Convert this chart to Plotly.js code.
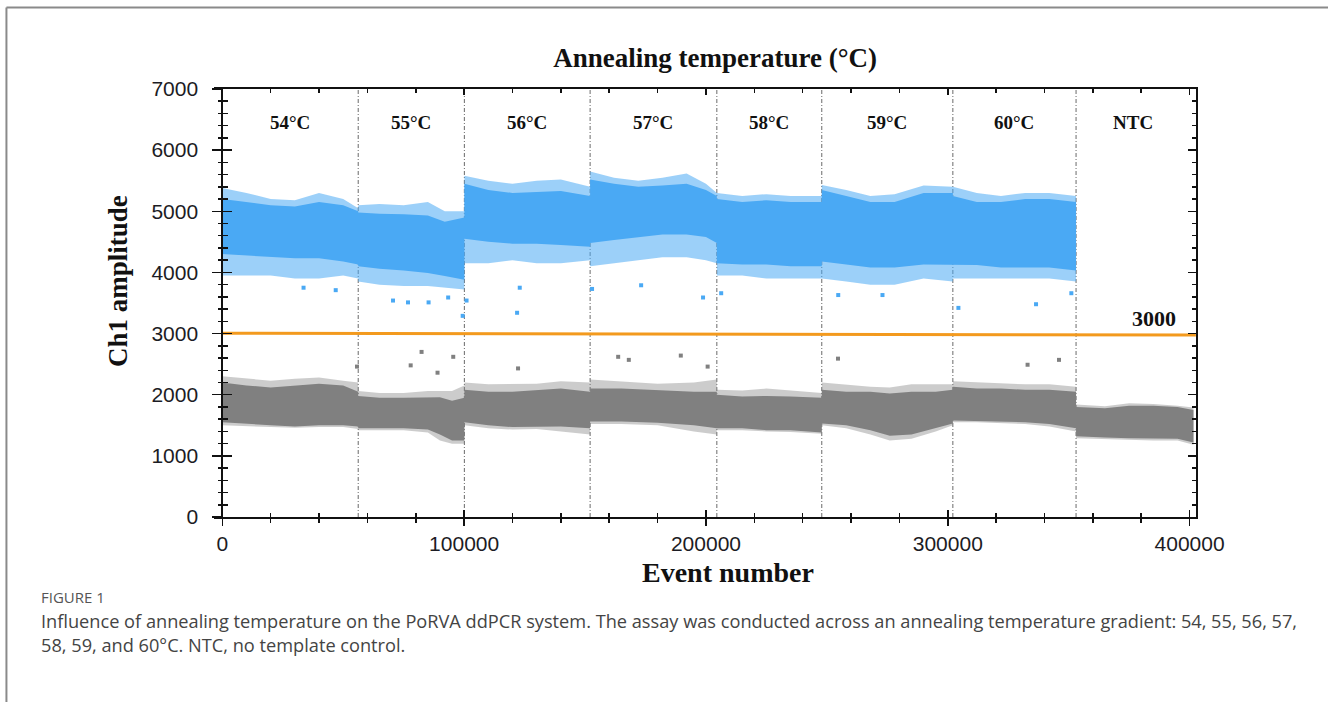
<!DOCTYPE html>
<html>
<head>
<meta charset="utf-8">
<script src="https://cdn.plot.ly/plotly-3.0.1.min.js"></script>
<style>
html,body{margin:0;padding:0;background:#fff;}
#chart{width:1328px;height:702px;}
</style>
</head>
<body>
<div id="chart"></div>
<script>
// ---- data ----
const wellLabels = ['54°C','55°C','56°C','57°C','58°C','59°C','60°C','NTC'];
const wellBounds = [0, 56200, 100100, 152100, 204500, 247900, 302100, 353050, 400000];

// positive droplets (blue) envelope, per well, steps at well boundaries
const blueX = [0,10000,20000,30000,40000,50000,56200, 56200,65000,75000,85000,92000,100100, 100100,110000,120000,130000,140000,152100, 152100,162000,172000,182000,192000,200000,204500, 204500,215000,225000,235000,247900, 247900,258000,268000,278000,290000,302100, 302100,312000,322000,332000,342000,353050];
const blueCoreHi = [5200,5150,5100,5080,5150,5100,5000, 4980,4960,4950,4930,4830,4900, 5450,5350,5300,5320,5330,5250, 5520,5450,5400,5420,5450,5350,5250, 5200,5150,5180,5150,5150, 5350,5250,5150,5150,5300,5300, 5250,5150,5150,5200,5200,5150];
const blueCoreLo = [4300,4270,4250,4230,4230,4180,4130, 4100,4060,4030,3990,3940,3880, 4550,4500,4470,4470,4450,4420, 4480,4530,4580,4620,4620,4580,4480, 4150,4130,4130,4100,4100, 4180,4130,4080,4080,4130,4130, 4130,4120,4080,4080,4080,4030];
const blueEdgeHi = [5380,5300,5200,5180,5300,5200,5050, 5100,5120,5100,5150,5000,5000, 5580,5500,5450,5500,5520,5400, 5650,5550,5500,5550,5620,5450,5300, 5300,5250,5280,5250,5250, 5430,5350,5250,5280,5420,5400, 5400,5300,5250,5300,5300,5250];
const blueEdgeLo = [3950,3950,3950,3900,3900,3950,3900, 3850,3800,3780,3780,3750,3720, 4150,4150,4200,4150,4150,4200, 4100,4150,4200,4250,4250,4200,4150, 3950,3950,3900,3900,3900, 3900,3850,3800,3800,3900,3850, 3900,3900,3900,3900,3900,3850];

// negative droplets (gray) envelope
const grayX = [0,10000,20000,30000,40000,50000,56200, 56200,65000,75000,85000,90000,95000,100100, 100100,110000,120000,130000,140000,152100, 152100,165000,180000,195000,204500, 204500,215000,225000,235000,247900, 247900,258000,268000,276000,285000,295000,302100, 302100,312000,322000,332000,342000,353050, 353050,365000,375000,385000,395000,401600];
const grayCoreHi = [2200,2150,2120,2150,2180,2150,2050, 1980,1950,1950,1950,1960,1900,1950, 2080,2050,2050,2080,2100,2050, 2100,2100,2080,2050,2050, 2000,1970,1980,1970,1950, 2080,2050,2050,2020,2050,2050,2080, 2130,2100,2100,2080,2080,2050, 1800,1780,1820,1820,1800,1750];
const grayCoreLo = [1550,1520,1500,1480,1500,1500,1480, 1450,1450,1450,1430,1350,1250,1250, 1550,1500,1470,1470,1480,1450, 1560,1560,1540,1500,1450, 1450,1450,1420,1420,1380, 1530,1500,1420,1330,1350,1450,1530, 1580,1580,1560,1550,1520,1450, 1320,1300,1290,1280,1280,1220];
const grayEdgeHi = [2300,2260,2230,2260,2280,2230,2200, 2060,2030,2030,2060,2060,2060,2150, 2200,2170,2170,2180,2220,2200, 2250,2220,2180,2200,2250, 2080,2070,2100,2070,2030, 2200,2170,2130,2120,2170,2170,2170, 2220,2200,2180,2170,2170,2130, 1840,1810,1860,1850,1820,1790];
const grayEdgeLo = [1500,1480,1470,1460,1470,1470,1440, 1420,1420,1420,1380,1250,1200,1200, 1500,1450,1430,1440,1400,1350, 1520,1520,1500,1400,1350, 1420,1420,1400,1390,1360, 1500,1450,1350,1250,1280,1400,1500, 1550,1550,1540,1520,1480,1400, 1290,1270,1260,1250,1250,1180];

// isolated droplets
const blueOutX = [33600,46900,70600,76800,85300,93400,99400,101000,121900,123000,152900,173200,198800,206300,254700,273000,304400,336500,351100];
const blueOutY = [3750,3710,3540,3510,3510,3590,3290,3540,3340,3750,3730,3790,3590,3660,3630,3630,3420,3480,3660];
const grayOutX = [55700,77900,82400,89000,95500,122300,163700,168100,189600,200700,254600,333000,346000];
const grayOutY = [2460,2480,2700,2360,2620,2430,2620,2570,2640,2460,2590,2490,2570];

// threshold
const thresholdX = [0, 402600];
const thresholdY = [3005, 2975];
const thresholdLabel = '3000';

// ---- figure ----
const BLUE = 'rgb(74,169,244)';
const GRAY = 'rgb(128,128,128)';
function band(xs, hi, lo, color) {
  return {
    type: 'scatter', mode: 'lines',
    x: xs.concat(xs.slice().reverse()),
    y: hi.concat(lo.slice().reverse()),
    fill: 'toself', fillcolor: color,
    line: {width: 0}, hoverinfo: 'skip', showlegend: false
  };
}
const traces = [
  band(grayX, grayEdgeHi, grayEdgeLo, 'rgba(128,128,128,0.4)'),
  band(blueX, blueEdgeHi, blueEdgeLo, 'rgba(74,169,244,0.55)'),
  band(grayX, grayCoreHi, grayCoreLo, GRAY),
  band(blueX, blueCoreHi, blueCoreLo, BLUE),
  {type:'scatter', mode:'markers', x: blueOutX, y: blueOutY, marker:{color:BLUE, size:4, symbol:'square'}, showlegend:false},
  {type:'scatter', mode:'markers', x: grayOutX, y: grayOutY, marker:{color:GRAY, size:4, symbol:'square'}, showlegend:false},
  {type:'scatter', mode:'lines', x: thresholdX, y: thresholdY, line:{color:'#f39a1e', width:3}, showlegend:false},
  {type:'scatter', x:[], y:[], xaxis:'x2', yaxis:'y', showlegend:false},
  {type:'scatter', x:[], y:[], xaxis:'x3', yaxis:'y', showlegend:false},
  {type:'scatter', x:[], y:[], xaxis:'x', yaxis:'y2', showlegend:false},
  {type:'scatter', x:[], y:[], xaxis:'x', yaxis:'y3', showlegend:false}
];

const W = 1328, H = 702;
const mL = 214, mR = 1328 - 1195.7, mT = 89, mB = 702 - 516.7;
const pw = W - mL - mR, ph = H - mT - mB;
const xr = [-3433, 402647];
const yAxisPos = (0 - xr[0]) / (xr[1] - xr[0]);
const px2fx = p => (p - mL) / pw;
const py2fy = p => 1 - (p - mT) / ph;

const tickFont = {family: 'Liberation Sans, Arial, sans-serif', size: 21, color: '#1c1c24'};
const serif = 'Liberation Serif, Times New Roman, serif';

const shapes = wellBounds.slice(1, -1).map(b => ({
  type: 'line', xref: 'x', yref: 'y', x0: b, x1: b, y0: 0, y1: 7000,
  line: {color: '#6a6a6a', width: 1, dash: '4px,2px,1px,2px'}, layer: 'below'
}));
// outer figure frame (top and left border)
shapes.push({type:'line', xref:'paper', yref:'paper', x0: px2fx(6.5), x1: px2fx(1330), y0: py2fy(7.5), y1: py2fy(7.5), line:{color:'#8a8a8a', width:2}});
shapes.push({type:'line', xref:'paper', yref:'paper', x0: px2fx(6.5), x1: px2fx(6.5), y0: py2fy(7.5), y1: py2fy(704), line:{color:'#8a8a8a', width:2}});

const annotations = wellLabels.map((t, i) => ({
  x: (wellBounds[i] + wellBounds[i + 1]) / 2, y: 6460, xref: 'x', yref: 'y',
  text: '<b>' + t + '</b>', showarrow: false, xanchor: 'center', yanchor: 'middle',
  font: {family: serif, size: 19, color: '#111'}
}));
annotations.push({x: 385400, y: 3250, xref:'x', yref:'y', text:'<b>' + thresholdLabel + '</b>', showarrow:false,
  xanchor:'center', yanchor:'middle', font:{family: serif, size: 22, color:'#111'}});
annotations.push({x: px2fx(118), y: py2fy(281), xref:'paper', yref:'paper', text:'<b>Ch1 amplitude</b>', textangle:-90,
  showarrow:false, xanchor:'center', yanchor:'middle', font:{family: serif, size: 27, color:'#111'}});
annotations.push({x: px2fx(728), y: py2fy(572), xref:'paper', yref:'paper', text:'<b>Event number</b>',
  showarrow:false, xanchor:'center', yanchor:'middle', font:{family: serif, size: 28, color:'#111'}});
annotations.push({x: px2fx(39), y: py2fy(597), xref:'paper', yref:'paper', text:'FIGURE 1',
  showarrow:false, xanchor:'left', yanchor:'middle', font:{family:'Open Sans, sans-serif', size:15, color:'#555'}});
annotations.push({x: px2fx(39), y: py2fy(621), xref:'paper', yref:'paper',
  text:'Influence of annealing temperature on the PoRVA ddPCR system. The assay was conducted across an annealing temperature gradient: 54, 55, 56, 57,',
  showarrow:false, xanchor:'left', yanchor:'middle', font:{family:'Open Sans, sans-serif', size:18.2, color:'#444'}});
annotations.push({x: px2fx(39), y: py2fy(645), xref:'paper', yref:'paper',
  text:'58, 59, and 60°C. NTC, no template control.',
  showarrow:false, xanchor:'left', yanchor:'middle', font:{family:'Open Sans, sans-serif', size:18.2, color:'#444'}});

const baseX = {range: xr, showgrid:false, zeroline:false, showline:false, ticks:'', showticklabels:false, fixedrange:true};
const baseY = {range: [0, 7000], showgrid:false, zeroline:false, showline:false, ticks:'', showticklabels:false, fixedrange:true};

const layout = {
  width: W, height: H,
  margin: {l: mL, r: mR, t: mT, b: mB, pad: 0},
  paper_bgcolor: '#fff', plot_bgcolor: 'rgba(0,0,0,0)',
  showlegend: false,
  title: {text: '<b>Annealing temperature (°C)</b>', font: {family: serif, size: 27, color: '#111'},
    xref: 'paper', x: px2fx(715), xanchor: 'center', yref: 'container', y: 1 - 58 / H, yanchor: 'middle'},
  xaxis: Object.assign({}, baseX, {
    showline: true, linecolor: '#111', linewidth: 2, mirror: true,
    ticks: 'outside', ticklen: 7, tickwidth: 1.5, tickcolor: '#111',
    dtick: 100000, tick0: 0, tickformat: 'd', showticklabels: true, tickfont: tickFont,
    minor: {dtick: 20000, tick0: 0, ticks: 'outside', ticklen: 4, tickwidth: 1.5, tickcolor: '#111'}
  }),
  xaxis2: Object.assign({}, baseX, {overlaying: 'x', anchor: 'y', side: 'bottom',
    ticks: 'inside', ticklen: 7, tickwidth: 1.5, tickcolor: '#111', dtick: 100000, tick0: 0,
    minor: {dtick: 20000, tick0: 0, ticks: 'inside', ticklen: 4, tickwidth: 1.5, tickcolor: '#111'}}),
  xaxis3: Object.assign({}, baseX, {overlaying: 'x', anchor: 'y', side: 'top',
    ticks: 'inside', ticklen: 6, tickwidth: 1.5, tickcolor: '#111', dtick: 100000, tick0: 0,
    minor: {dtick: 20000, tick0: 0, ticks: 'inside', ticklen: 4, tickwidth: 1.5, tickcolor: '#111'}}),
  yaxis: Object.assign({}, baseY, {
    anchor: 'free', position: yAxisPos,
    showline: true, linecolor: '#111', linewidth: 2,
    ticks: 'outside', ticklen: 9, tickwidth: 1.5, tickcolor: '#111',
    dtick: 1000, tick0: 0, tickformat: 'd', showticklabels: true, tickfont: tickFont, ticklabelstandoff: 10,
    minor: {dtick: 200, tick0: 0, ticks: 'outside', ticklen: 3.5, tickwidth: 1.5, tickcolor: '#111'}
  }),
  yaxis2: Object.assign({}, baseY, {overlaying: 'y', anchor: 'free', position: yAxisPos, side: 'left',
    ticks: 'inside', ticklen: 9, tickwidth: 1.5, tickcolor: '#111', dtick: 1000, tick0: 0,
    minor: {dtick: 200, tick0: 0, ticks: 'inside', ticklen: 5, tickwidth: 1.5, tickcolor: '#111'}}),
  yaxis3: Object.assign({}, baseY, {overlaying: 'y', anchor: 'x', side: 'right',
    showline: true, linecolor: '#111', linewidth: 2,
    ticks: 'inside', ticklen: 8, tickwidth: 1.5, tickcolor: '#111', dtick: 1000, tick0: 0,
    minor: {dtick: 200, tick0: 0, ticks: 'inside', ticklen: 4, tickwidth: 1.5, tickcolor: '#111'}}),
  shapes: shapes,
  annotations: annotations
};

Plotly.newPlot('chart', traces, layout, {displayModeBar: false, staticPlot: true});
</script>
</body>
</html>
